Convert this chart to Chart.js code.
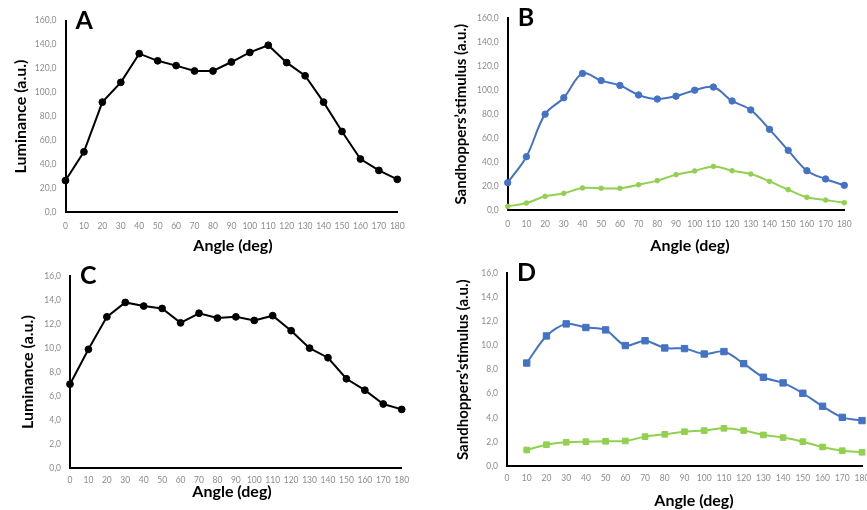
<!DOCTYPE html>
<html>
<head>
<meta charset="utf-8">
<script src="https://cdn.jsdelivr.net/npm/chart.js@4.4.1/dist/chart.umd.min.js"></script>
<style>
  html, body { margin: 0; padding: 0; background: #fff; }
  body { width: 867px; height: 510px; overflow: hidden; position: relative; }
  canvas { position: absolute; }
</style>
</head>
<body>
<canvas id="chartA"></canvas>
<canvas id="chartB"></canvas>
<canvas id="chartC"></canvas>
<canvas id="chartD"></canvas>
<script>
// x categories (deg)
const angles = ['0', '10', '20', '30', '40', '50', '60', '70', '80', '90',
  '100', '110', '120', '130', '140', '150', '160', '170', '180'];

// A - luminance
const luminanceA = [26.5, 50.5, 92, 108.5, 132.5, 126.5, 122.5, 118, 118, 125.5,
  133.5, 139.5, 125, 114, 92, 67.5, 44.5, 35, 27.5];
// B - sandhoppers' stimulus
const stimulusB1 = [22.8, 44.5, 80, 93.7, 114, 108, 104, 96, 92.6, 95,
  100, 102.6, 91, 83.5, 67.3, 49.8, 32.8, 25.9, 20.6];
const stimulusB2 = [3, 5.8, 11.4, 13.9, 18.4, 18.1, 18.1, 21.1, 24.5, 29.5,
  32.6, 36.4, 32.8, 30, 23.9, 17, 10.6, 8.3, 6.1];
// C - luminance
const luminanceC = [7.0, 9.9, 12.6, 13.8, 13.5, 13.3, 12.1, 12.9, 12.5, 12.6,
  12.3, 12.7, 11.45, 10.0, 9.2, 7.45, 6.5, 5.35, 4.9];
// D - sandhoppers' stimulus (no value at 0 deg)
const stimulusD1 = [null, 8.55, 10.8, 11.8, 11.5, 11.3, 10.0, 10.4, 9.8, 9.75,
  9.3, 9.5, 8.5, 7.37, 6.9, 6.04, 4.96, 4.04, 3.77];
const stimulusD2 = [null, 1.33, 1.77, 1.97, 2.02, 2.05, 2.08, 2.44, 2.63, 2.85,
  2.94, 3.13, 2.94, 2.58, 2.36, 2.02, 1.58, 1.27, 1.14];

const BLUE = '#4472C4';
const GREEN = '#92D050';
const FONT = 'Lato';

// panel letter + x axis caption, placed relative to the plot area
const extras = {
  id: 'extras',
  afterDraw(chart, args, opts) {
    const { ctx, chartArea } = chart;
    ctx.save();
    ctx.fillStyle = '#000';
    ctx.font = 'bold 25px ' + FONT;
    ctx.textAlign = 'left';
    ctx.textBaseline = 'alphabetic';
    ctx.fillText(opts.letter, chartArea.left + 10, chartArea.top + 8);
    ctx.font = 'bold 16px ' + FONT;
    ctx.textAlign = 'center';
    ctx.textBaseline = 'middle';
    ctx.fillText(opts.caption, (chartArea.left + chartArea.right) / 2 + opts.dx, chartArea.bottom + opts.dy);
    ctx.restore();
  }
};

function lineSet(label, data, color, style, radius, tension) {
  return {
    label: label,
    data: data,
    borderColor: color,
    backgroundColor: color,
    borderWidth: 2,
    pointStyle: style,
    pointRadius: radius,
    pointBackgroundColor: color,
    pointBorderWidth: 1,
    tension: tension,
    clip: false
  };
}

function makePanel(id, p) {
  const canvas = document.getElementById(id);
  canvas.width = p.width;
  canvas.height = p.height;
  canvas.style.left = p.left + 'px';
  canvas.style.top = p.top + 'px';
  const yWidth = p.area.left - p.left;
  const xHeight = 20;
  const lh = p.yTitleSize * 1.2;

  new Chart(canvas, {
    type: 'line',
    data: { labels: angles, datasets: p.datasets },
    options: {
      responsive: false,
      animation: false,
      events: [],
      layout: {
        padding: {
          left: 0,
          top: p.area.top - p.top,
          right: p.width - (p.area.right - p.left),
          bottom: p.height - (p.area.bottom - p.top) - xHeight
        }
      },
      plugins: {
        legend: { display: false },
        tooltip: { enabled: false },
        extras: { letter: p.letter, caption: 'Angle (deg)', dx: p.capDx, dy: p.capDy }
      },
      scales: {
        x: {
          grid: { display: false, drawTicks: false },
          border: { color: '#000', width: 2 },
          ticks: {
            color: '#8c8c8c', font: { family: FONT, size: 8.5 },
            padding: p.xPad, autoSkip: false, maxRotation: 0
          },
          afterFit: s => { s.height = xHeight; }
        },
        y: {
          min: 0,
          max: p.max,
          grid: { display: false, drawTicks: false },
          border: { color: '#000', width: 2 },
          ticks: {
            stepSize: p.max / 8,
            color: '#8c8c8c', font: { family: FONT, size: 8.5 },
            padding: 9,
            callback: v => v.toFixed(1).replace('.', ',')
          },
          title: {
            display: true,
            text: p.yTitle,
            color: '#000',
            font: { family: FONT, size: p.yTitleSize, weight: 'bold' },
            padding: { top: p.yTitleX - p.left - lh / 2, bottom: 0 }
          },
          afterFit: s => { s.width = yWidth; }
        }
      }
    },
    plugins: [extras]
  });
}

makePanel('chartA', {
  left: 0, top: 0, width: 430, height: 255,
  area: { left: 65.5, top: 20.7, right: 397.3, bottom: 212.3 },
  max: 160, letter: 'A', yTitle: 'Luminance (a.u.)', yTitleSize: 16, yTitleX: 21,
  xPad: 8.6, capDx: 1.6, capDy: 33.7,
  datasets: [lineSet('Luminance', luminanceA, '#000', 'circle', 3.4, 0)]
});

makePanel('chartB', {
  left: 430, top: 0, width: 437, height: 255,
  area: { left: 507.7, top: 18.3, right: 844.3, bottom: 210 },
  max: 160, letter: 'B', yTitle: 'Sandhoppers\u2019stimulus (a.u.)', yTitleSize: 15, yTitleX: 461,
  xPad: 8.9, capDx: 14, capDy: 36,
  datasets: [
    lineSet('Stimulus 1', stimulusB1, BLUE, 'circle', 3.2, 0.35),
    lineSet('Stimulus 2', stimulusB2, GREEN, 'circle', 2.3, 0.35)
  ]
});

makePanel('chartC', {
  left: 0, top: 250, width: 430, height: 260,
  area: { left: 70, top: 276, right: 401.7, bottom: 468.3 },
  max: 16, letter: 'C', yTitle: 'Luminance (a.u.)', yTitleSize: 16, yTitleX: 28,
  xPad: 6.6, capDx: -3.8, capDy: 23.2,
  datasets: [lineSet('Luminance', luminanceC, '#000', 'circle', 3.4, 0)]
});

makePanel('chartD', {
  left: 430, top: 250, width: 450, height: 260,
  area: { left: 507, top: 273.3, right: 862, bottom: 466 },
  max: 16, letter: 'D', yTitle: 'Sandhoppers\u2019stimulus (a.u.)', yTitleSize: 15, yTitleX: 463,
  xPad: 7.2, capDx: 9.5, capDy: 35,
  datasets: [
    lineSet('Stimulus 1', stimulusD1, BLUE, 'rect', 4.5, 0.3),
    lineSet('Stimulus 2', stimulusD2, GREEN, 'rect', 4, 0.3)
  ]
});
</script>
</body>
</html>
